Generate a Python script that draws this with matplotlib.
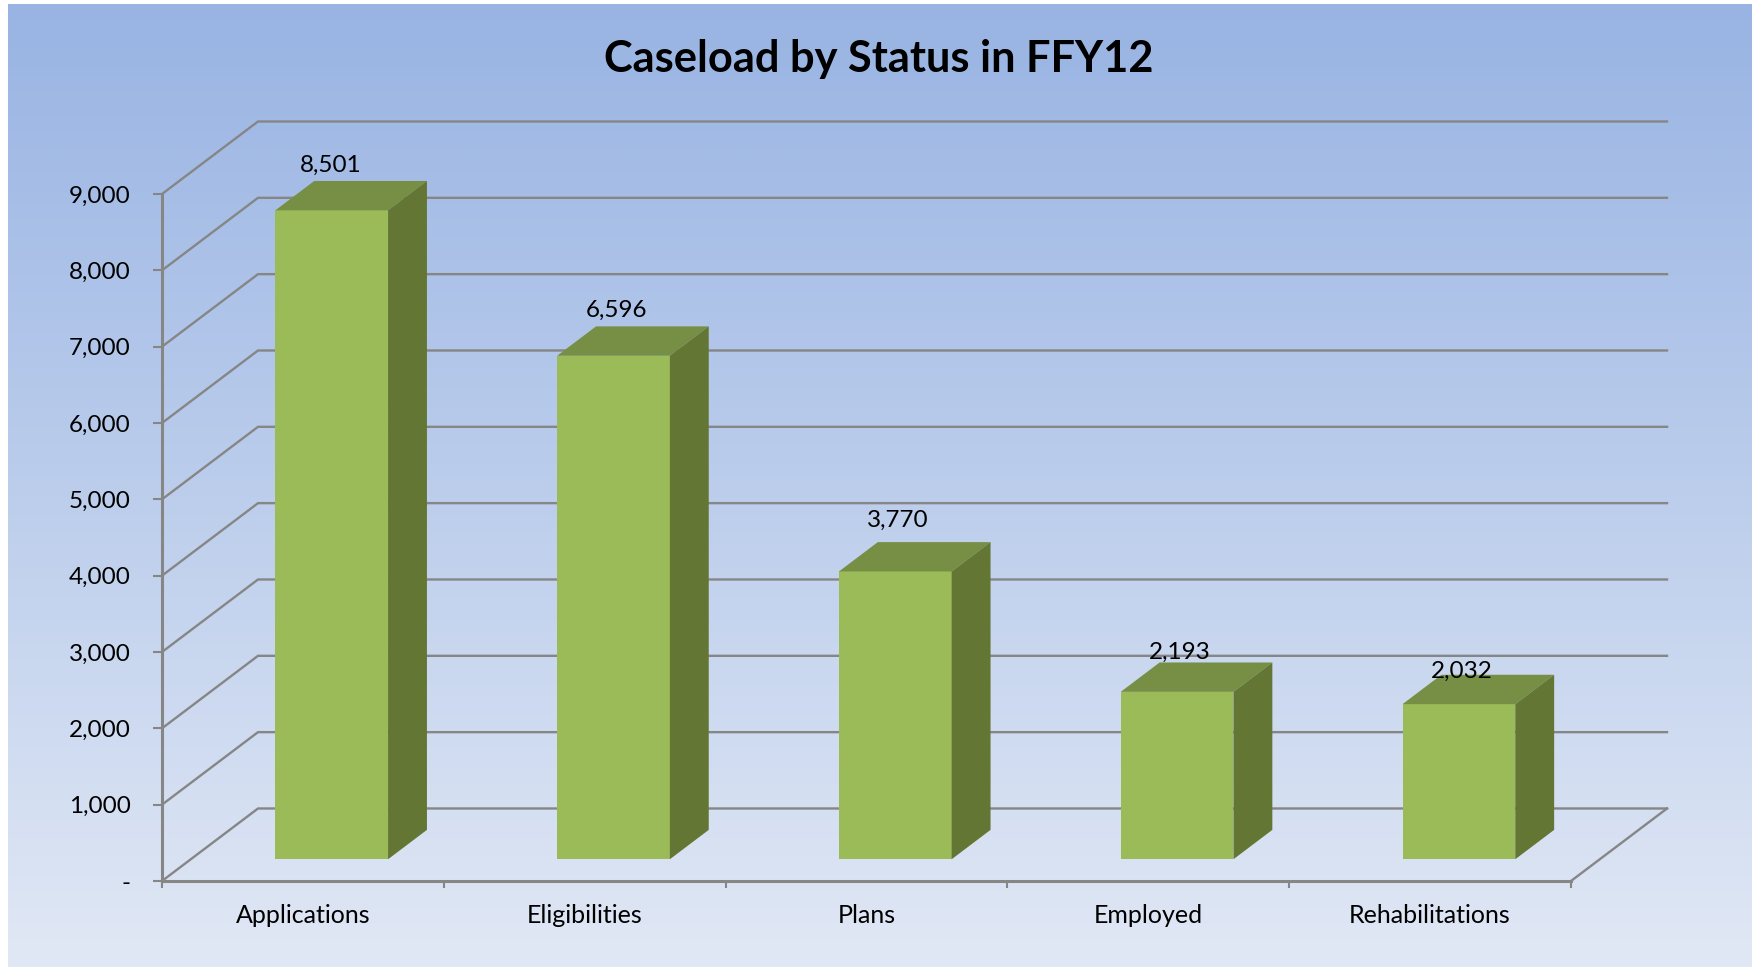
import numpy as np
import matplotlib
matplotlib.use("Agg")
import matplotlib.pyplot as plt
from matplotlib.colors import LinearSegmentedColormap
from matplotlib.patches import Polygon

# ---- data ----
categories = ["Applications", "Eligibilities", "Plans", "Employed", "Rehabilitations"]
values = [8501, 6596, 3770, 2193, 2032]
y_ticks = [0, 1000, 2000, 3000, 4000, 5000, 6000, 7000, 8000, 9000]
y_tick_labels = ["-", "1,000", "2,000", "3,000", "4,000", "5,000", "6,000", "7,000", "8,000", "9,000"]
title = "Caseload by Status in FFY12"

# ---- style and layout ----
W, H = 1754, 967
FONT = "Lato"
GRID = "#868686"
FRONT, TOP, SIDE = "#9BBB59", "#778F45", "#647634"
DEPTH_X = 0.3407     # wall depth, in category units
DEPTH_Y = 950        # wall depth, in value units
BAR_WIDTH = 0.40
BAR_Z0, BAR_Z1 = 0.30, 0.705
label_lift_pt = [11.5, 11.5, 15.5, 7.5, 2.5]
label_shift_pt = [-1, 2, 2, 2, 2]

fig = plt.figure(figsize=(W / 100, H / 100), dpi=100, facecolor="white")

bg = fig.add_axes([8 / W, 0, (1751 - 8) / W, 1 - 4 / H], zorder=0)
cmap = LinearSegmentedColormap.from_list(
    "bg", [(0, "#99B4E3"), (0.40, "#B4C8EA"), (1, "#E1E8F5")])
bg.imshow(np.linspace(0, 1, 256)[:, None], aspect="auto", cmap=cmap, interpolation="bilinear")
bg.axis("off")

ax = fig.add_axes([162 / W, 1 - 881 / H, (1571 - 162) / W, (881 - 194) / H], zorder=1)
ax.patch.set_alpha(0)
ax.set_xlim(0, len(categories))
ax.set_ylim(0, 9000)


def proj(x, y, z):
    return x + z * DEPTH_X, y + z * DEPTH_Y


# walls
n = len(categories)
for v in y_ticks:
    pts = [proj(0, v, 0), proj(0, v, 1), proj(n, v, 1)]
    ax.plot(*zip(*pts), color=GRID, lw=1.7, clip_on=False, zorder=1, solid_joinstyle="miter")
ax.plot(*zip(proj(n, 0, 0), proj(n, 0, 1)), color=GRID, lw=1.7, clip_on=False, zorder=1)

# bars
for i, v in enumerate(values):
    x0, x1 = i + 0.5 - BAR_WIDTH / 2, i + 0.5 + BAR_WIDTH / 2
    fx0, base = proj(x0, 0, BAR_Z0)
    ax.bar(fx0, v, width=BAR_WIDTH, bottom=base, align="edge", color=FRONT, zorder=3, clip_on=False)
    top = [proj(x0, v, BAR_Z0), proj(x1, v, BAR_Z0), proj(x1, v, BAR_Z1), proj(x0, v, BAR_Z1)]
    side = [proj(x1, 0, BAR_Z0), proj(x1, v, BAR_Z0), proj(x1, v, BAR_Z1), proj(x1, 0, BAR_Z1)]
    ax.add_patch(Polygon(top, closed=True, fc=TOP, ec="none", zorder=3, clip_on=False))
    ax.add_patch(Polygon(side, closed=True, fc=SIDE, ec="none", zorder=3, clip_on=False))
    lx, _ = proj(i + 0.5, 0, BAR_Z0)
    _, ly = proj(0, v, BAR_Z1)
    ax.annotate(f"{v:,}", (lx, ly), xytext=(label_shift_pt[i], label_lift_pt[i]),
                textcoords="offset points", ha="center", va="center", fontsize=17.5,
                family=FONT, color="black", zorder=4, annotation_clip=False)

# axes
for s in ("top", "right"):
    ax.spines[s].set_visible(False)
for s in ("left", "bottom"):
    ax.spines[s].set_color(GRID)
    ax.spines[s].set_linewidth(2.2)
    ax.spines[s].set_zorder(2)
ax.set_yticks(y_ticks)
ax.set_yticklabels(y_tick_labels, family=FONT, fontsize=17.5)
ax.tick_params(axis="y", length=6.5, width=1.5, color=GRID, pad=16, labelcolor="black")
ax.set_xticks(range(n + 1))
ax.set_xticklabels([])
ax.tick_params(axis="x", which="major", length=5, width=1.5, color=GRID)
ax.set_xticks([i + 0.5 for i in range(n)], minor=True)
ax.set_xticklabels(categories, minor=True, family=FONT, fontsize=18)
ax.tick_params(axis="x", which="minor", length=0, pad=16.5, labelcolor="black")

fig.text((605 + 1153) / 2 / W, 1 - 59 / H, title, ha="center", va="center",
         fontsize=31.2, fontweight="bold", family=FONT, color="black", zorder=5)

fig.savefig("out.png", dpi=100, facecolor="white")
